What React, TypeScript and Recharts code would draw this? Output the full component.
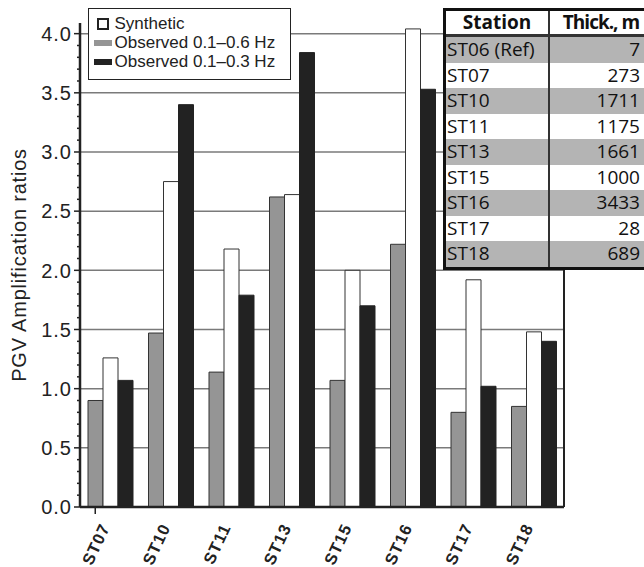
import { Bar, BarChart, CartesianGrid, Legend, XAxis, YAxis } from "recharts";

const STATIONS = ["ST07", "ST10", "ST11", "ST13", "ST15", "ST16", "ST17", "ST18"];
const OBSERVED_06 = [0.9, 1.47, 1.14, 2.62, 1.07, 2.22, 0.8, 0.85];
const SYNTHETIC = [1.26, 2.75, 2.18, 2.64, 2.0, 4.04, 1.92, 1.48];
const OBSERVED_03 = [1.07, 3.4, 1.79, 3.84, 1.7, 3.53, 1.02, 1.4];

const MAJOR_TICKS = [0, 0.5, 1, 1.5, 2, 2.5, 3, 3.5, 4];
// minor ticks every 0.1 along both y axes
const ALL_TICKS = Array.from({ length: 41 }, (_, i) => i / 10);

const TABLE_STATIONS = ["ST06 (Ref)", "ST07", "ST10", "ST11", "ST13", "ST15", "ST16", "ST17", "ST18"];
const THICKNESS_M = [7, 273, 1711, 1175, 1661, 1000, 3433, 28, 689];

const data = STATIONS.map((name, i) => ({
	name,
	obs06: OBSERVED_06[i],
	synthetic: SYNTHETIC[i],
	obs03: OBSERVED_03[i],
}));

const FONT = "'Liberation Sans', Arial, Helvetica, sans-serif";
const TABLE_FONT = "'Open Sans', 'Noto Sans', sans-serif";
const GRAY = "#959595";
const BLACK = "#222222";

const isMajor = (v: number) => Math.round(v * 10) % 5 === 0;

function LeftTick(props: any) {
	const { x, y, payload } = props;
	const v = payload.value as number;
	const major = isMajor(v);
	return (
		<g>
			<line x1={x} x2={x - (major ? 6 : 3)} y1={y} y2={y} stroke={BLACK} strokeWidth={1.5} />
			{major && (
				<text
					x={x - 8}
					y={y}
					dy="0.36em"
					textAnchor="end"
					fontSize={20}
					letterSpacing={1}
					fill="#222"
					fontFamily={FONT}
				>
					{v.toFixed(1)}
				</text>
			)}
		</g>
	);
}

function RightTick(props: any) {
	const { x, y, payload } = props;
	const major = isMajor(payload.value);
	return <line x1={x} x2={x + (major ? 6 : 3.5)} y1={y} y2={y} stroke={BLACK} strokeWidth={1.5} />;
}

function StationTick(props: any) {
	const { x, y, payload, index } = props;
	const ty = y + 20;
	return (
		<g>
			{index === 0 && <line x1={x - 15} x2={x - 15} y1={y} y2={y + 7} stroke={BLACK} strokeWidth={1.5} />}
			<text
				x={x}
				y={ty}
				textAnchor="end"
				transform={`rotate(-65, ${x}, ${ty})`}
				fontSize={16.5}
				fontWeight="bold"
				letterSpacing={1}
				fill="#222"
				fontFamily={FONT}
			>
				{payload.value}
			</text>
		</g>
	);
}

const LEGEND_ITEMS = [
	{ label: "Synthetic", kind: "box" },
	{ label: "Observed 0.1–0.6 Hz", kind: GRAY },
	{ label: "Observed 0.1–0.3 Hz", kind: BLACK },
];

function LegendBox() {
	return (
		<div
			style={{
				width: 201,
				height: 65,
				border: "1.5px solid #222",
				background: "#fff",
				paddingTop: 5,
				boxSizing: "content-box",
				fontFamily: FONT,
				fontSize: 17,
				color: "#222",
			}}
		>
			{LEGEND_ITEMS.map((item) => (
				<div key={item.label} style={{ display: "flex", alignItems: "center", height: 19, lineHeight: "19px" }}>
					<div style={{ width: 18, marginLeft: 4.5, marginRight: 3, display: "flex", justifyContent: "center" }}>
						{item.kind === "box" ? (
							<div style={{ width: 8, height: 8, border: "2px solid #222", background: "#fff" }} />
						) : (
							<div style={{ width: 18, height: 6, background: item.kind }} />
						)}
					</div>
					<span>{item.label}</span>
				</div>
			))}
		</div>
	);
}

function ThicknessTable() {
	const rowH = 25.5;
	return (
		<div
			style={{
				position: "absolute",
				left: 443,
				top: 8,
				width: 210,
				borderTop: "3px solid #111",
				borderLeft: "3px solid #111",
				borderBottom: "3.5px solid #111",
				background: "#fff",
				fontFamily: TABLE_FONT,
				fontSize: 19,
				color: "#111",
			}}
		>
			<div style={{ display: "flex", height: 23, lineHeight: "23px", fontWeight: "bold", borderBottom: "3px solid #333" }}>
				<div style={{ width: 102, textAlign: "center", borderRight: "2px solid #333" }}>Station</div>
				<div style={{ width: 102, textAlign: "center", letterSpacing: -1, whiteSpace: "nowrap" }}>Thick., m</div>
			</div>
			{TABLE_STATIONS.map((st, i) => (
				<div
					key={st}
					style={{
						display: "flex",
						height: rowH,
						lineHeight: `${rowH}px`,
						background: i % 2 === 0 ? "#b4b4b4" : "#fff",
					}}
				>
					<div style={{ width: 101, paddingLeft: 1, borderRight: "2px solid #333" }}>{st}</div>
					<div style={{ width: 90, textAlign: "right", paddingRight: 12 }}>{THICKNESS_M[i]}</div>
				</div>
			))}
		</div>
	);
}

export default function App() {
	return (
		<div style={{ position: "absolute", left: 0, top: 0, width: 644, height: 567, overflow: "hidden", background: "#fff" }}>
			<BarChart
				width={644}
				height={567}
				data={data}
				margin={{ top: 23, right: 60, bottom: 0, left: 0 }}
				barGap={0}
				barSize={15}
			>
				<CartesianGrid
					vertical={false}
					horizontalValues={MAJOR_TICKS.slice(1)}
					stroke="#7a7a7a"
					strokeWidth={1.5}
					strokeDasharray=""
				/>
				<XAxis
					dataKey="name"
					height={60}
					tickSize={0}
					tickMargin={0}
					tickLine={false}
					axisLine={{ stroke: BLACK, strokeWidth: 2.5 }}
					tick={StationTick}
					interval={0}
				/>
				<XAxis xAxisId="top" dataKey="name" orientation="top" height={0} tick={false} tickLine={false} axisLine={{ stroke: BLACK, strokeWidth: 2 }} />
				<YAxis
					domain={[0, 4.09]}
					ticks={ALL_TICKS}
					interval={0}
					width={80}
					tickSize={0}
					tickMargin={0}
					tickLine={false}
					axisLine={{ stroke: BLACK, strokeWidth: 2.5 }}
					tick={LeftTick}
					label={{
						value: "PGV Amplification ratios",
						angle: -90,
						position: "insideLeft",
						offset: 19,
						style: { fontSize: 20, letterSpacing: 0.8, fill: "#222", fontFamily: FONT, textAnchor: "middle" },
					}}
				/>
				<YAxis
					yAxisId="right"
					orientation="right"
					domain={[0, 4.09]}
					ticks={ALL_TICKS}
					interval={0}
					width={20}
					tickSize={0}
					tickMargin={0}
					tickLine={false}
					axisLine={{ stroke: BLACK, strokeWidth: 2 }}
					tick={RightTick}
				/>
				<Legend
					layout="vertical"
					align="center"
					verticalAlign="middle"
					wrapperStyle={{ left: 88, top: 8, width: "auto" }}
					content={() => <LegendBox />}
				/>
				<Bar dataKey="obs06" name="Observed 0.1–0.6 Hz" fill={GRAY} stroke="#333" strokeWidth={1} isAnimationActive={false} />
				<Bar dataKey="synthetic" name="Synthetic" fill="#fff" stroke="#333" strokeWidth={1} isAnimationActive={false} />
				<Bar dataKey="obs03" name="Observed 0.1–0.3 Hz" fill={BLACK} stroke="#222" strokeWidth={1} isAnimationActive={false} />
			</BarChart>
			<ThicknessTable />
		</div>
	);
}
